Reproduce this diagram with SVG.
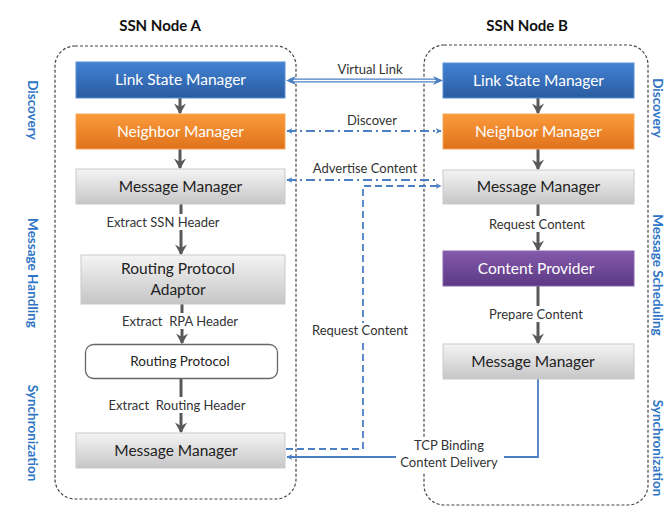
<svg xmlns="http://www.w3.org/2000/svg" width="665" height="508" viewBox="0 0 665 508">
<defs>
<linearGradient id="gBlue" x1="0" y1="0" x2="0" y2="1"><stop offset="0" stop-color="#4283d3"/><stop offset="1" stop-color="#2a5ba1"/></linearGradient>
<linearGradient id="gOrange" x1="0" y1="0" x2="0" y2="1"><stop offset="0" stop-color="#fb9b3c"/><stop offset="1" stop-color="#df721b"/></linearGradient>
<linearGradient id="gGray" x1="0" y1="0" x2="0" y2="1"><stop offset="0" stop-color="#f4f4f4"/><stop offset="1" stop-color="#c6c6c6"/></linearGradient>
<linearGradient id="gPurple" x1="0" y1="0" x2="0" y2="1"><stop offset="0" stop-color="#8459ab"/><stop offset="1" stop-color="#5c3a84"/></linearGradient>
<marker id="ga" viewBox="0 0 10 10" refX="8" refY="5" markerWidth="4" markerHeight="4" orient="auto" markerUnits="strokeWidth">
<path d="M0,0 L9,5 L0,10 L3,5 Z" fill="#595959"/></marker>
<marker id="ba" viewBox="0 0 10 10" refX="9" refY="5" markerWidth="6" markerHeight="6" orient="auto-start-reverse" markerUnits="userSpaceOnUse">
<path d="M0,0 L10,5 L0,10 L3,5 Z" fill="#4a7fc4"/></marker>
</defs>
<style>
.panel{fill:none;stroke:#444;stroke-width:1.2;stroke-dasharray:3 2}
.title{font-family:Lato,"Liberation Sans",sans-serif;font-weight:bold;font-size:15px;fill:#111;text-anchor:middle}
.side{font-family:Lato,"Liberation Sans",sans-serif;font-weight:bold;font-size:13.5px;fill:#2e75c6;text-anchor:middle}
.bt{font-family:Lato,"Liberation Sans",sans-serif;font-size:15.5px;text-anchor:middle}
.w{fill:#fff}
.d{fill:#222}
.lab{font-family:Lato,"Liberation Sans",sans-serif;font-size:13px;fill:#333;text-anchor:middle;white-space:pre}
.ia{stroke:#595959;stroke-width:3;fill:none;marker-end:url(#ga)}
.bl{stroke:#4a7fc4;stroke-width:1.8;fill:none}
</style>
<rect width="665" height="508" fill="#fff"/>
<rect class="panel" x="55" y="46" width="241" height="453" rx="20"/>
<rect class="panel" x="424" y="45" width="224" height="460" rx="20"/>
<text class="title" x="160" y="31">SSN Node A</text>
<text class="title" x="527" y="31">SSN Node B</text>
<text class="side" transform="translate(28,110) rotate(90)">Discovery</text>
<text class="side" transform="translate(28,273) rotate(90)">Message Handling</text>
<text class="side" transform="translate(28,433) rotate(90)">Synchronization</text>
<text class="side" transform="translate(653,108) rotate(90)">Discovery</text>
<text class="side" transform="translate(653,275) rotate(90)">Message Scheduling</text>
<text class="side" transform="translate(653,448) rotate(90)">Synchronization</text>
<g id="connectors">
<line class="ia" x1="180" y1="98" x2="180" y2="113"/>
<line class="ia" x1="180" y1="149" x2="180" y2="168"/>
<line class="ia" x1="181" y1="204" x2="181" y2="254"/>
<line class="ia" x1="182" y1="304" x2="182" y2="343"/>
<line class="ia" x1="181" y1="379" x2="181" y2="432"/>
<line class="ia" x1="538" y1="98" x2="538" y2="113"/>
<line class="ia" x1="538" y1="149" x2="538" y2="169"/>
<line class="ia" x1="538" y1="204" x2="538" y2="250"/>
<line class="ia" x1="538" y1="286" x2="538" y2="343"/>
<rect x="100" y="214" width="126" height="16" fill="#fff"/>
<text class="lab" x="163" y="227">Extract SSN Header</text>
<rect x="112" y="313" width="138" height="16" fill="#fff"/>
<text class="lab" x="180" y="326" xml:space="preserve">Extract  RPA Header</text>
<rect x="97" y="397" width="160" height="16" fill="#fff"/>
<text class="lab" x="177" y="410" xml:space="preserve">Extract  Routing Header</text>
<rect x="481" y="216" width="112" height="16" fill="#fff"/>
<text class="lab" x="537" y="229">Request Content</text>
<rect x="481" y="306" width="110" height="16" fill="#fff"/>
<text class="lab" x="536" y="319">Prepare Content</text>
<line x1="290" y1="80.5" x2="438" y2="80.5" stroke="#4a7fc4" stroke-width="4"/>
<line x1="288" y1="80.5" x2="440" y2="80.5" stroke="#fff" stroke-width="1.4"/>
<path d="M286,80.5 L296,76 L293,80.5 L296,85 Z" fill="#4a7fc4"/>
<path d="M443,80.5 L433,76 L436,80.5 L433,85 Z" fill="#4a7fc4"/>
<text class="lab" x="370" y="74">Virtual Link</text>
<line class="bl" x1="287" y1="131" x2="441" y2="131" stroke-dasharray="9 4 2 4" marker-start="url(#ba)" marker-end="url(#ba)"/>
<text class="lab" x="372" y="125">Discover</text>
<line class="bl" x1="287" y1="180" x2="436" y2="180" stroke-dasharray="9 4 2 4" marker-start="url(#ba)"/>
<text class="lab" x="365" y="173">Advertise Content</text>
<path class="bl" d="M286,449 L363,449 L363,186 L441,186" stroke-dasharray="7 4" marker-end="url(#ba)"/>
<rect x="306" y="323" width="108" height="16" fill="#fff"/>
<text class="lab" x="360" y="335">Request Content</text>
<path class="bl" d="M538,379 L538,457 L287,457" marker-end="url(#ba)"/>
<rect x="396" y="438" width="108" height="34" fill="#fff"/>
<text class="lab" x="449" y="450">TCP Binding</text>
<text class="lab" x="449" y="467">Content Delivery</text>
</g>
<g id="a-lsm"><rect x="76" y="62" width="209" height="36" fill="url(#gBlue)" stroke="#5b8fd3"/><text class="bt w" x="180.5" y="85">Link State Manager</text></g>
<g id="a-nm"><rect x="76" y="114" width="209" height="35" fill="url(#gOrange)" stroke="#f6a55a"/><text class="bt w" x="180.5" y="137">Neighbor Manager</text></g>
<g id="a-mm1"><rect x="76" y="169" width="209" height="35" fill="url(#gGray)" stroke="#c9c9c9"/><text class="bt d" x="180.5" y="192">Message Manager</text></g>
<g id="a-rpa"><rect x="81" y="255" width="204" height="49" fill="url(#gGray)" stroke="#c9c9c9"/><text class="bt d" x="178" y="274">Routing Protocol</text><text class="bt d" x="178" y="295">Adaptor</text></g>
<g id="a-rp"><rect x="85.5" y="344.5" width="192" height="34" rx="8" fill="#fff" stroke="#666" stroke-width="1.3"/><text class="bt d" style="font-size:13.5px" x="180" y="366">Routing Protocol</text></g>
<g id="a-mm2"><rect x="76" y="433" width="209" height="35" fill="url(#gGray)" stroke="#c9c9c9"/><text class="bt d" x="176" y="456">Message Manager</text></g>
<g id="b-lsm"><rect x="443" y="63" width="191" height="35" fill="url(#gBlue)" stroke="#5b8fd3"/><text class="bt w" x="538.5" y="86">Link State Manager</text></g>
<g id="b-nm"><rect x="443" y="114" width="191" height="35" fill="url(#gOrange)" stroke="#f6a55a"/><text class="bt w" x="538.5" y="137">Neighbor Manager</text></g>
<g id="b-mm1"><rect x="443" y="170" width="191" height="34" fill="url(#gGray)" stroke="#c9c9c9"/><text class="bt d" x="538.5" y="192">Message Manager</text></g>
<g id="b-cp"><rect x="443" y="251" width="191" height="35" fill="url(#gPurple)" stroke="#8a68ad"/><text class="bt w" x="536" y="274">Content Provider</text></g>
<g id="b-mm2"><rect x="443" y="344" width="191" height="35" fill="url(#gGray)" stroke="#c9c9c9"/><text class="bt d" x="533" y="367">Message Manager</text></g>
</svg>
